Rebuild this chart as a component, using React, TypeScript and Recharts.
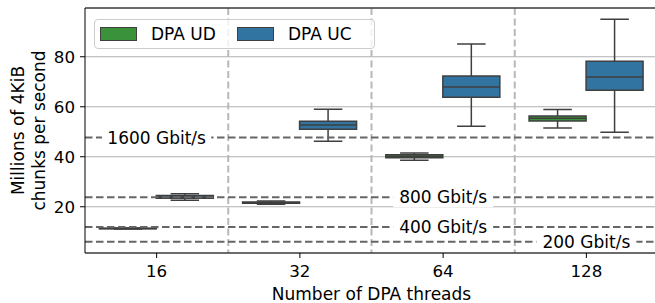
import {
  ComposedChart, Bar, XAxis, YAxis, CartesianGrid, ReferenceLine, Legend,
} from "recharts";

const threads = ["16", "32", "64", "128"];

// DPA UD throughput, box stats (millions of 4KiB chunks per second)
const udMin = [11.1, 21.0, 38.6, 51.5];
const udQ1 = [11.2, 21.4, 39.6, 54.3];
const udMed = [11.3, 21.6, 40.2, 55.4];
const udQ3 = [11.4, 21.9, 40.8, 56.3];
const udMax = [11.5, 22.3, 41.5, 58.9];

// DPA UC throughput
const ucMin = [22.6, 46.2, 52.2, 49.8];
const ucQ1 = [23.4, 51.0, 63.8, 66.6];
const ucMed = [23.9, 52.7, 67.9, 71.9];
const ucQ3 = [24.5, 54.2, 72.3, 78.2];
const ucMax = [25.2, 59.0, 85.1, 95.0];

// line rates, expressed in the same unit as the boxes
const rateLabels = ["1600 Gbit/s", "800 Gbit/s", "400 Gbit/s", "200 Gbit/s"];
const rateValues = [47.68, 23.84, 11.92, 5.96];
const rateLabelCat = [0, 2, 2, 3];

const seriesNames = ["DPA UD", "DPA UC"];
const yTicks = [20, 40, 60, 80];
const yDomain: [number, number] = [1.5, 99.5];

const UD_COLOR = "#3a923a";
const UC_COLOR = "#3274a1";
const EDGE = "#3f3f3f";
const FONT = "'DejaVu Sans', sans-serif";

const stats = (i: number, lo: number[], q1: number[], med: number[], q3: number[], hi: number[]) => ({
  min: lo[i], q1: q1[i], med: med[i], q3: q3[i], max: hi[i],
});

const data = threads.map((t, i) => ({
  threads: t,
  ud: [udMin[i], udMax[i]],
  uc: [ucMin[i], ucMax[i]],
  udStats: stats(i, udMin, udQ1, udMed, udQ3, udMax),
  ucStats: stats(i, ucMin, ucQ1, ucMed, ucQ3, ucMax),
}));

// The bar itself spans min..max; box/median are placed linearly inside it
function boxShape(key: "udStats" | "ucStats", fill: string) {
  return (props: any) => {
    const { x, y, width, height, payload } = props;
    const s = payload[key];
    const top = Math.min(y, y + height);
    const bot = Math.max(y, y + height);
    const py = (v: number) => top + ((s.max - v) / (s.max - s.min)) * (bot - top);
    const cx = x + width / 2;
    const cap = width / 4;
    const yq3 = py(s.q3);
    const yq1 = py(s.q1);
    return (
      <g stroke={EDGE} strokeWidth={1.5}>
        <line x1={cx} x2={cx} y1={top} y2={yq3} />
        <line x1={cx} x2={cx} y1={yq1} y2={bot} />
        <line x1={cx - cap} x2={cx + cap} y1={top} y2={top} />
        <line x1={cx - cap} x2={cx + cap} y1={bot} y2={bot} />
        <rect x={x} y={yq3} width={width} height={Math.max(yq1 - yq3, 0.5)} fill={fill} />
        <line x1={x} x2={x + width} y1={py(s.med)} y2={py(s.med)} />
      </g>
    );
  };
}

function rateLabel(text: string, cat: number) {
  return (props: any) => {
    const vb = props.viewBox;
    const cx = vb.x + (vb.width * (cat + 0.5)) / threads.length;
    const w = text.length * 9.2 + 8;
    return (
      <g>
        <rect x={cx - w / 2} y={vb.y - 10} width={w} height={20} fill="#fff" />
        <text x={cx} y={vb.y} textAnchor="middle" dominantBaseline="central"
          fontSize={17} fontFamily={FONT} fill="#000">
          {text}
        </text>
      </g>
    );
  };
}

function YLabel(props: any) {
  const vb = props.viewBox;
  const cy = vb.y + vb.height / 2;
  return (
    <g fontSize={17} fontFamily={FONT} fill="#000" textAnchor="middle">
      <text x={18} y={cy} dominantBaseline="central" transform={`rotate(-90 18 ${cy})`}>
        Millions of 4KiB
      </text>
      <text x={38.5} y={cy} dominantBaseline="central" transform={`rotate(-90 38.5 ${cy})`}>
        chunks per second
      </text>
    </g>
  );
}

function LegendBox(props: any) {
  const items = [...(props.payload || [])].sort(
    (a: any, b: any) => seriesNames.indexOf(a.value) - seriesNames.indexOf(b.value),
  );
  return (
    <div style={{
      display: "flex", alignItems: "center", boxSizing: "border-box",
      width: 281, height: 30, paddingLeft: 5,
      border: "1px solid #cccccc", borderRadius: 4,
      background: "rgba(255,255,255,0.8)",
      fontFamily: FONT, fontSize: 17, color: "#000",
    }}>
      {items.map((entry: any) => (
        <span key={entry.value} style={{ display: "flex", alignItems: "center", width: 152 }}>
          <span style={{
            width: 37, height: 14, marginRight: 14, boxSizing: "border-box",
            background: entry.color, border: `1px solid ${EDGE}`,
          }} />
          {entry.value}
        </span>
      ))}
    </div>
  );
}

export default function App() {
  return (
    <div style={{ position: "absolute", left: 0, top: 0, width: 655, height: 303, overflow: "hidden", background: "#fff" }}>
      <ComposedChart
        width={660}
        height={303}
        data={data}
        margin={{ top: 8, right: 2, bottom: 0, left: 0 }}
        barCategoryGap="10%"
        barGap={0}
      >
        <CartesianGrid vertical={false} stroke="#b0b0b0" strokeWidth={1} />
        <CartesianGrid
          horizontal={false}
          stroke="#b8b8b8"
          strokeWidth={2}
          strokeDasharray="7 3.5"
          verticalCoordinatesGenerator={({ offset }: any) =>
            [1, 2, 3].map((k) => offset.left + (offset.width * k) / threads.length)
          }
        />
        <XAxis
          dataKey="threads"
          height={50}
          tickSize={5}
          tickMargin={7}
          stroke="#000"
          tick={{ fontSize: 16.7, fontFamily: FONT, fill: "#000" }}
          label={{
            value: "Number of DPA threads", position: "insideBottom", offset: 3,
            fontSize: 17, fontFamily: FONT, fill: "#000",
          }}
        />
        <YAxis
          type="number"
          domain={yDomain}
          ticks={yTicks}
          allowDataOverflow
          width={85}
          tickSize={5}
          tickMargin={5}
          stroke="#000"
          tick={{ fontSize: 16.7, fontFamily: FONT, fill: "#000" }}
          label={{ content: YLabel }}
        />
        {rateValues.map((v, i) => (
          <ReferenceLine
            key={rateLabels[i]}
            y={v}
            stroke="#666666"
            strokeWidth={2}
            strokeDasharray="7.5 3.5"
            label={rateLabel(rateLabels[i], rateLabelCat[i])}
          />
        ))}
        <ReferenceLine y={yDomain[1]} stroke="#000" strokeWidth={1} />
        <Bar dataKey="ud" name="DPA UD" fill={UD_COLOR} shape={boxShape("udStats", UD_COLOR)} isAnimationActive={false} />
        <Bar dataKey="uc" name="DPA UC" fill={UC_COLOR} shape={boxShape("ucStats", UC_COLOR)} isAnimationActive={false} />
        <Legend
          layout="horizontal"
          verticalAlign="middle"
          align="center"
          wrapperStyle={{ left: 94, top: 19, width: 281 }}
          content={LegendBox}
        />
      </ComposedChart>
    </div>
  );
}
